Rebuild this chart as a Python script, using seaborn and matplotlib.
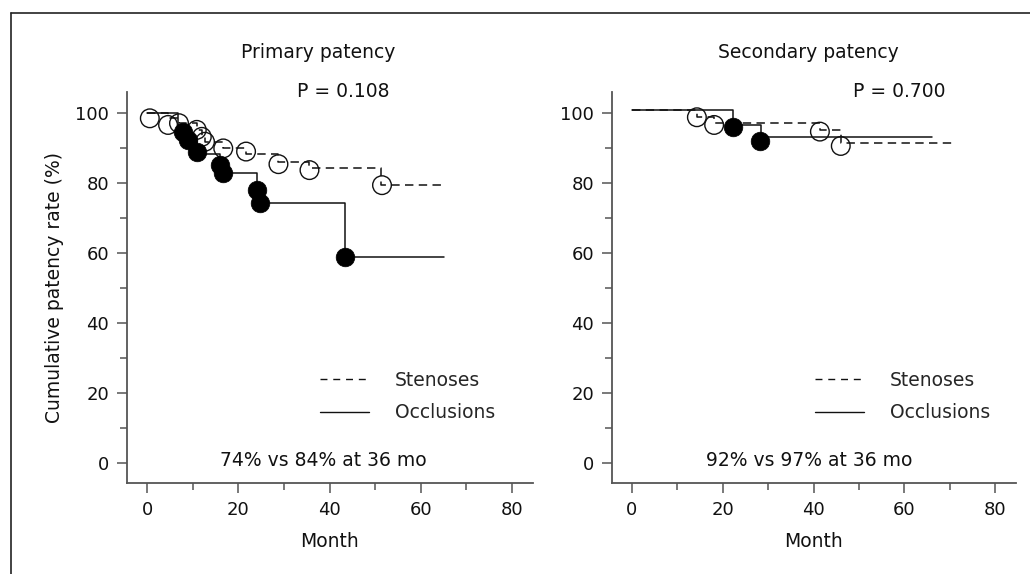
import numpy as np
import matplotlib.pyplot as plt
import seaborn as sns
from matplotlib.lines import Line2D

sns.set_style("ticks")
plt.rcParams['font.family'] = ['DejaVu Sans']

# ---- Primary patency (month, cumulative patency %) ----
prim_sten_month = [0, 4.6, 7.0, 10.9, 12.0, 12.7, 16.7, 21.7, 28.7, 35.5, 51.3, 64.6]
prim_sten_rate = [100, 98.5, 97.0, 95.1, 93.1, 91.7, 89.8, 88.2, 85.8, 84.1, 79.3, 79.3]
prim_occl_month = [0, 6.8, 7.9, 9.0, 10.9, 16.0, 16.7, 24.0, 24.8, 43.4, 65.0]
prim_occl_rate = [100, 96.5, 94.6, 92.2, 88.3, 85.1, 82.7, 77.9, 74.1, 58.7, 58.7]
# event circles
prim_sten_ev_month = [0.6, 4.6, 7.0, 10.9, 12.0, 12.7, 16.7, 21.7, 28.8, 35.6, 51.5]
prim_sten_ev_rate = [98.4, 96.5, 97.0, 95.1, 93.1, 91.7, 89.8, 88.9, 85.3, 83.6, 79.3]
prim_occl_ev_month = [7.9, 9.0, 10.9, 16.0, 16.7, 24.0, 24.8, 43.4]
prim_occl_ev_rate = [94.6, 92.2, 88.9, 85.1, 82.7, 77.9, 74.1, 58.7]

# ---- Secondary patency ----
sec_sten_month = [0, 14.3, 18.1, 41.4, 46.0, 71.2]
sec_sten_rate = [100.8, 98.7, 97.0, 95.0, 91.4, 91.4]
sec_occl_month = [0, 22.3, 28.4, 66.0]
sec_occl_rate = [100.8, 96.5, 93.1, 93.1]
sec_sten_ev_month = [14.3, 18.1, 41.4, 46.0]
sec_sten_ev_rate = [98.7, 96.5, 94.6, 90.5]
sec_occl_ev_month = [22.2, 28.3]
sec_occl_ev_rate = [95.8, 92.0]

titles = ["Primary patency", "Secondary patency"]
p_values = ["P = 0.108", "P = 0.700"]
summaries = ["74% vs 84% at 36 mo", "92% vs 97% at 36 mo"]
legend_labels = ["Stenoses", "Occlusions"]

DASH = (0, (5.5, 3.5))
LEG_DASH = (0, (5, 4.2))
GREY = '#555555'
INK = '#111111'

fig = plt.figure(figsize=(10.30, 5.74), dpi=100)
ax1 = fig.add_axes([127/1030, 1 - 482.7/574, 406/1030, 391/574])
ax2 = fig.add_axes([612/1030, 1 - 482.7/574, 404/1030, 391/574])

panels = [
    (ax1, prim_sten_month, prim_sten_rate, prim_occl_month, prim_occl_rate,
     prim_sten_ev_month, prim_sten_ev_rate, prim_occl_ev_month, prim_occl_ev_rate,
     37.5, 43.0, 38.6, 0.475),
    (ax2, sec_sten_month, sec_sten_rate, sec_occl_month, sec_occl_rate,
     sec_sten_ev_month, sec_sten_ev_rate, sec_occl_ev_month, sec_occl_ev_rate,
     38.9, 58.8, 39.1, 0.5025),
]

for i, (ax, sm, sr, om, orr, sem, ser, oem, oer, tx, px, bx, lx) in enumerate(panels):
    # step curves
    sns.lineplot(x=sm, y=sr, ax=ax, color=INK, lw=1.1, linestyle=DASH,
                 drawstyle='steps-post', estimator=None, sort=False)
    sns.lineplot(x=om, y=orr, ax=ax, color=INK, lw=1.1,
                 drawstyle='steps-post', estimator=None, sort=False)
    # event markers
    sns.scatterplot(x=sem, y=ser, ax=ax, s=180, facecolor='none',
                    edgecolor=INK, linewidth=1.0, zorder=3)
    sns.scatterplot(x=oem, y=oer, ax=ax, s=180, color='black',
                    edgecolor='black', linewidth=0.5, zorder=4)

    ax.set_xlim(-4.4, 84.6)
    ax.set_ylim(-5.7, 106)
    ax.set_xticks([0, 20, 40, 60, 80])
    ax.set_xticks([10, 30, 50, 70], minor=True)
    ax.set_yticks([0, 20, 40, 60, 80, 100])
    ax.set_yticks([10, 30, 50, 70, 90], minor=True)
    sns.despine(ax=ax)
    for sp in ['left', 'bottom']:
        ax.spines[sp].set_color(GREY)
        ax.spines[sp].set_linewidth(1.3)
    ax.tick_params(which='major', direction='out', length=7, width=1.1,
                   color=GREY, labelsize=13, pad=6, labelcolor=INK)
    ax.tick_params(which='minor', direction='out', length=5, width=1.1, color=GREY)

    ax.set_xlabel("Month", fontsize=13.5, labelpad=9.5, color=INK)
    if i == 0:
        ax.set_ylabel("Cumulative patency rate (%)", fontsize=13.5,
                      labelpad=8, color=INK)
    else:
        ax.set_ylabel("")

    ax.text(tx, 117.1, titles[i], ha='center', va='center', fontsize=13.5,
            color=INK, clip_on=False)
    ax.text(px, 106, p_values[i], ha='center', va='center', fontsize=13.5,
            color=INK, clip_on=False)
    ax.text(bx, 0.5, summaries[i], ha='center', va='center', fontsize=13.5,
            color=INK)

    handles = [Line2D([], [], color=INK, lw=1.0, linestyle=LEG_DASH),
               Line2D([], [], color=INK, lw=1.0)]
    ax.legend(handles, legend_labels, loc='upper left', bbox_to_anchor=(lx, 0.286),
              frameon=False, borderpad=0, borderaxespad=0, handlelength=2.6,
              handletextpad=1.4, labelspacing=0.72, fontsize=13.5)

# outer frame (top and left edges)
fig.add_artist(Line2D([11/1030, 1], [1 - 13/574, 1 - 13/574], color='#222222', lw=1.2))
fig.add_artist(Line2D([11/1030, 11/1030], [0, 1 - 13/574], color='#222222', lw=1.2))

fig.savefig("out.png", dpi=100)
